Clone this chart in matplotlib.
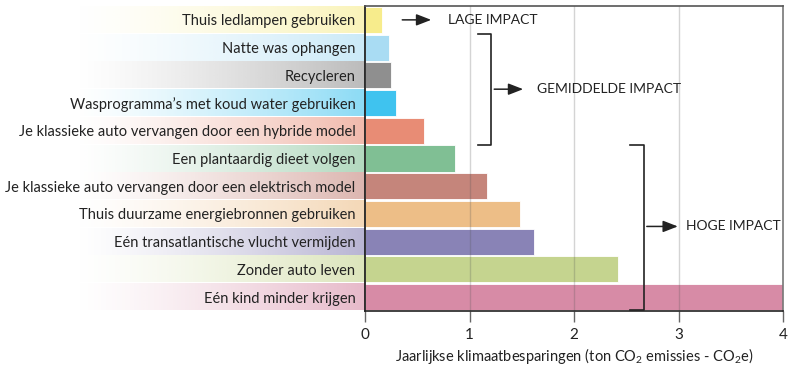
import numpy as np
import matplotlib.pyplot as plt
from matplotlib.colors import to_rgb

# Jaarlijkse klimaatbesparingen per maatregel (ton CO2e)
labels = [
    'Thuis ledlampen gebruiken',
    'Natte was ophangen',
    'Recycleren',
    "Wasprogramma’s met koud water gebruiken",
    'Je klassieke auto vervangen door een hybride model',
    'Een plantaardig dieet volgen',
    'Je klassieke auto vervangen door een elektrisch model',
    'Thuis duurzame energiebronnen gebruiken',
    'Eén transatlantische vlucht vermijden',
    'Zonder auto leven',
    'Eén kind minder krijgen',
]
savings = [0.16, 0.23, 0.25, 0.30, 0.56, 0.86, 1.17, 1.48, 1.62, 2.42, 4.0]
colors = ['#f7ec8c', '#a9dcf3', '#8f8f8f', '#3fc3ef', '#e88c75', '#80bf94',
          '#c5857b', '#edbe87', '#8983b6', '#c5d48f', '#d78ba6']
xticks = [0, 1, 2, 3, 4]

plt.rcParams['font.family'] = ['Lato', 'DejaVu Sans']
plt.rcParams['mathtext.fontset'] = 'custom'
plt.rcParams['mathtext.rm'] = 'Lato'
text_col = '#222222'

W, H = 800, 367
fig = plt.figure(figsize=(8, 3.67), dpi=100)
left, right, top, bottom = 365, 783, 6, 311
rect = [left / W, 1 - bottom / H, (right - left) / W, (bottom - top) / H]

# fading colour bands behind the labels
bg = fig.add_axes([0, rect[1], left / W, rect[3]])
bg.set_xlim(0, 1)
bg.set_ylim(len(labels) - 0.5, -0.5)
bg.axis('off')
ramp = np.clip((np.linspace(0, 1, 200) - 0.2) / 0.8, 0, 1) ** 1.3 * 0.6
for i, c in enumerate(colors):
    img = np.ones((1, 200, 4))
    img[0, :, :3] = to_rgb(c)
    img[0, :, 3] = ramp
    bg.imshow(img, extent=(0, 1, i + 0.47, i - 0.47), aspect='auto',
              interpolation='bilinear')

ax = fig.add_axes(rect)
y = np.arange(len(labels))
ax.barh(y, savings, height=0.94, color=colors, edgecolor='white',
        linewidth=0.6, zorder=2)
ax.set_xlim(0, 4)
ax.set_ylim(len(labels) - 0.5, -0.5)
ax.set_yticks(y)
ax.set_yticklabels(labels, fontsize=10.5, color=text_col)
ax.tick_params(axis='y', length=0, pad=7)
ax.set_xticks(xticks)
ax.set_xticklabels([str(t) for t in xticks], fontsize=11, color=text_col)
ax.tick_params(axis='x', length=8, width=1, color='#666666', pad=4)
for g in xticks[1:-1]:
    ax.axvline(g, color='#555555', alpha=0.25, lw=1, zorder=3)
ax.set_xlabel('Jaarlijkse klimaatbesparingen (ton CO$_2$ emissies - CO$_2$e)',
              fontsize=10.5, color=text_col, labelpad=3)

ax.spines['left'].set_color('#111111')
ax.spines['bottom'].set_color('#222222')
ax.spines['top'].set_color('#555555')
ax.spines['right'].set_color('#777777')
for s in ax.spines.values():
    s.set_linewidth(1.2)
    s.set_zorder(4)

arrow = dict(arrowstyle='-|>,head_length=0.9,head_width=0.35', color='#222222', lw=1.1)
line_kw = dict(color='#222222', lw=1.2, zorder=5)

# lage impact
ax.annotate('', xy=(0.66, 0), xytext=(0.33, 0), arrowprops=arrow)
ax.text(0.79, 0, 'LAGE IMPACT', fontsize=10, color=text_col, va='center')

# gemiddelde impact
ax.plot([1.08, 1.21, 1.21, 1.08], [0.5, 0.5, 4.5, 4.5], **line_kw)
ax.annotate('', xy=(1.54, 2.5), xytext=(1.21, 2.5), arrowprops=arrow)
ax.text(1.65, 2.5, 'GEMIDDELDE IMPACT', fontsize=10, color=text_col, va='center')

# hoge impact
ax.plot([2.54, 2.67, 2.67, 2.54], [4.5, 4.5, 10.45, 10.45], **line_kw)
ax.annotate('', xy=(3.02, 7.45), xytext=(2.67, 7.45), arrowprops=arrow)
ax.text(3.07, 7.45, 'HOGE IMPACT', fontsize=10, color=text_col, va='center')

fig.savefig('out.png', dpi=100)
